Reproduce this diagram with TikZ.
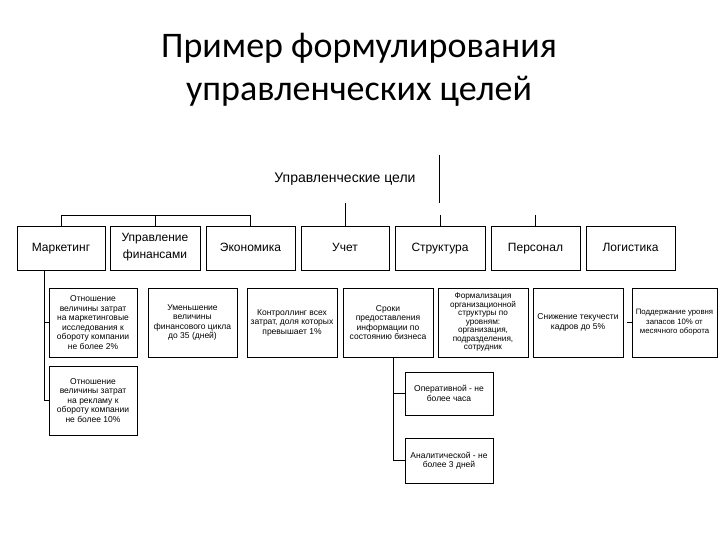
\documentclass[tikz,border=0pt]{standalone}
\usepackage{fontspec}
\setmainfont{Liberation Sans}
\newfontfamily\titlefont{Carlito}
\begin{document}
\begin{tikzpicture}
[x=1pt,y=-1pt,line width=0.7pt,
area/.style={draw,inner sep=1pt,align=center,minimum width=89pt,minimum height=44pt,font=\fontsize{12}{17}\selectfont,execute at begin node=\strut,execute at end node=\strut},
goal/.style={draw,inner sep=1pt,align=center,minimum width=89pt,minimum height=69pt,font=\fontsize{8.5}{9.5}\selectfont}]
\useasboundingbox (0,0) rectangle (720,540);
\node[font=\titlefont\fontsize{36}{43}\selectfont,align=center] (title) at (359,70) {Пример формулирования\\управленческих целей};
\node[font=\fontsize{14}{16}\selectfont,minimum width=188pt,minimum height=48pt] (head) at (345,179) {Управленческие цели};
\draw (head.north east) -- (head.south east);
\node[area,minimum width=88pt] (mark) at (61,248) {Маркетинг}; \node[area,minimum width=90pt] (fin) at (155,248) {Управление\\финансами};
\node[area] (econ) at (250.5,248) {Экономика}; \node[area,minimum width=88pt] (uchet) at (345,248) {Учет};
\node[area,minimum width=90pt] (struct) at (440,248) {Структура}; \node[area] (pers) at (535.5,248) {Персонал};
\node[area] (logist) at (630.5,248) {Логистика};
\node[goal,minimum width=88pt] (mark1) at (93,322.5) {Отношение\\величины затрат\\на маркетинговые\\исследования к\\обороту компании\\не более 2\%};
\node[goal,minimum width=88pt] (mark2) at (93,400.5) {Отношение\\величины затрат\\на рекламу к\\обороту компании\\не более 10\%};
\node[goal] (fin1) at (192.5,322.5) {Уменьшение\\величины\\финансового цикла\\до 35 (дней)};
\node[goal,minimum width=90pt] (econ1) at (292,322.5) {Контроллинг всех\\затрат, доля которых\\превышает 1\%};
\node[goal,minimum width=90pt] (uchet1) at (388,322.5) {Сроки\\предоставления\\информации по\\состоянию бизнеса};
\node[goal,minimum width=90pt,font=\fontsize{8.2}{8.5}\selectfont] (struct1) at (483,322.5) {Формализация\\организационной\\структуры по\\уровням:\\организация,\\подразделения,\\сотрудник};
\node[goal,minimum width=90pt] (pers1) at (578,322.5) {Снижение текучести\\кадров до 5\%};
\node[goal,minimum width=85pt,font=\fontsize{7.8}{9.5}\selectfont] (logist1) at (674.5,322.5) {Поддержание уровня\\запасов 10\% от\\месячного оборота};
\node[goal,minimum width=88pt,minimum height=43pt] (uchet2) at (449,393.5) {Оперативной - не\\более часа};
\node[goal,minimum width=88pt,minimum height=45pt] (uchet3) at (449,460.5) {Аналитической - не\\более 3 дней};
\draw (mark.north) -- ++(0,-10) -| (econ.north); \draw (fin.north) -- ++(0,-10);
\draw (head.south) -- (uchet.north); \draw (struct.north) -- ++(0,-11); \draw (pers.north) -- ++(0,-11);
\draw ([xshift=-17pt]mark.south) |- (mark1.west); \draw ([xshift=-17pt]mark.south) |- (mark2.west);
\draw ([xshift=5pt]uchet1.south) |- (uchet2.west); \draw ([xshift=5pt]uchet1.south) |- (uchet3.west);
\draw (logist1.west) -- ++(-5,0);
\end{tikzpicture}
\end{document}
